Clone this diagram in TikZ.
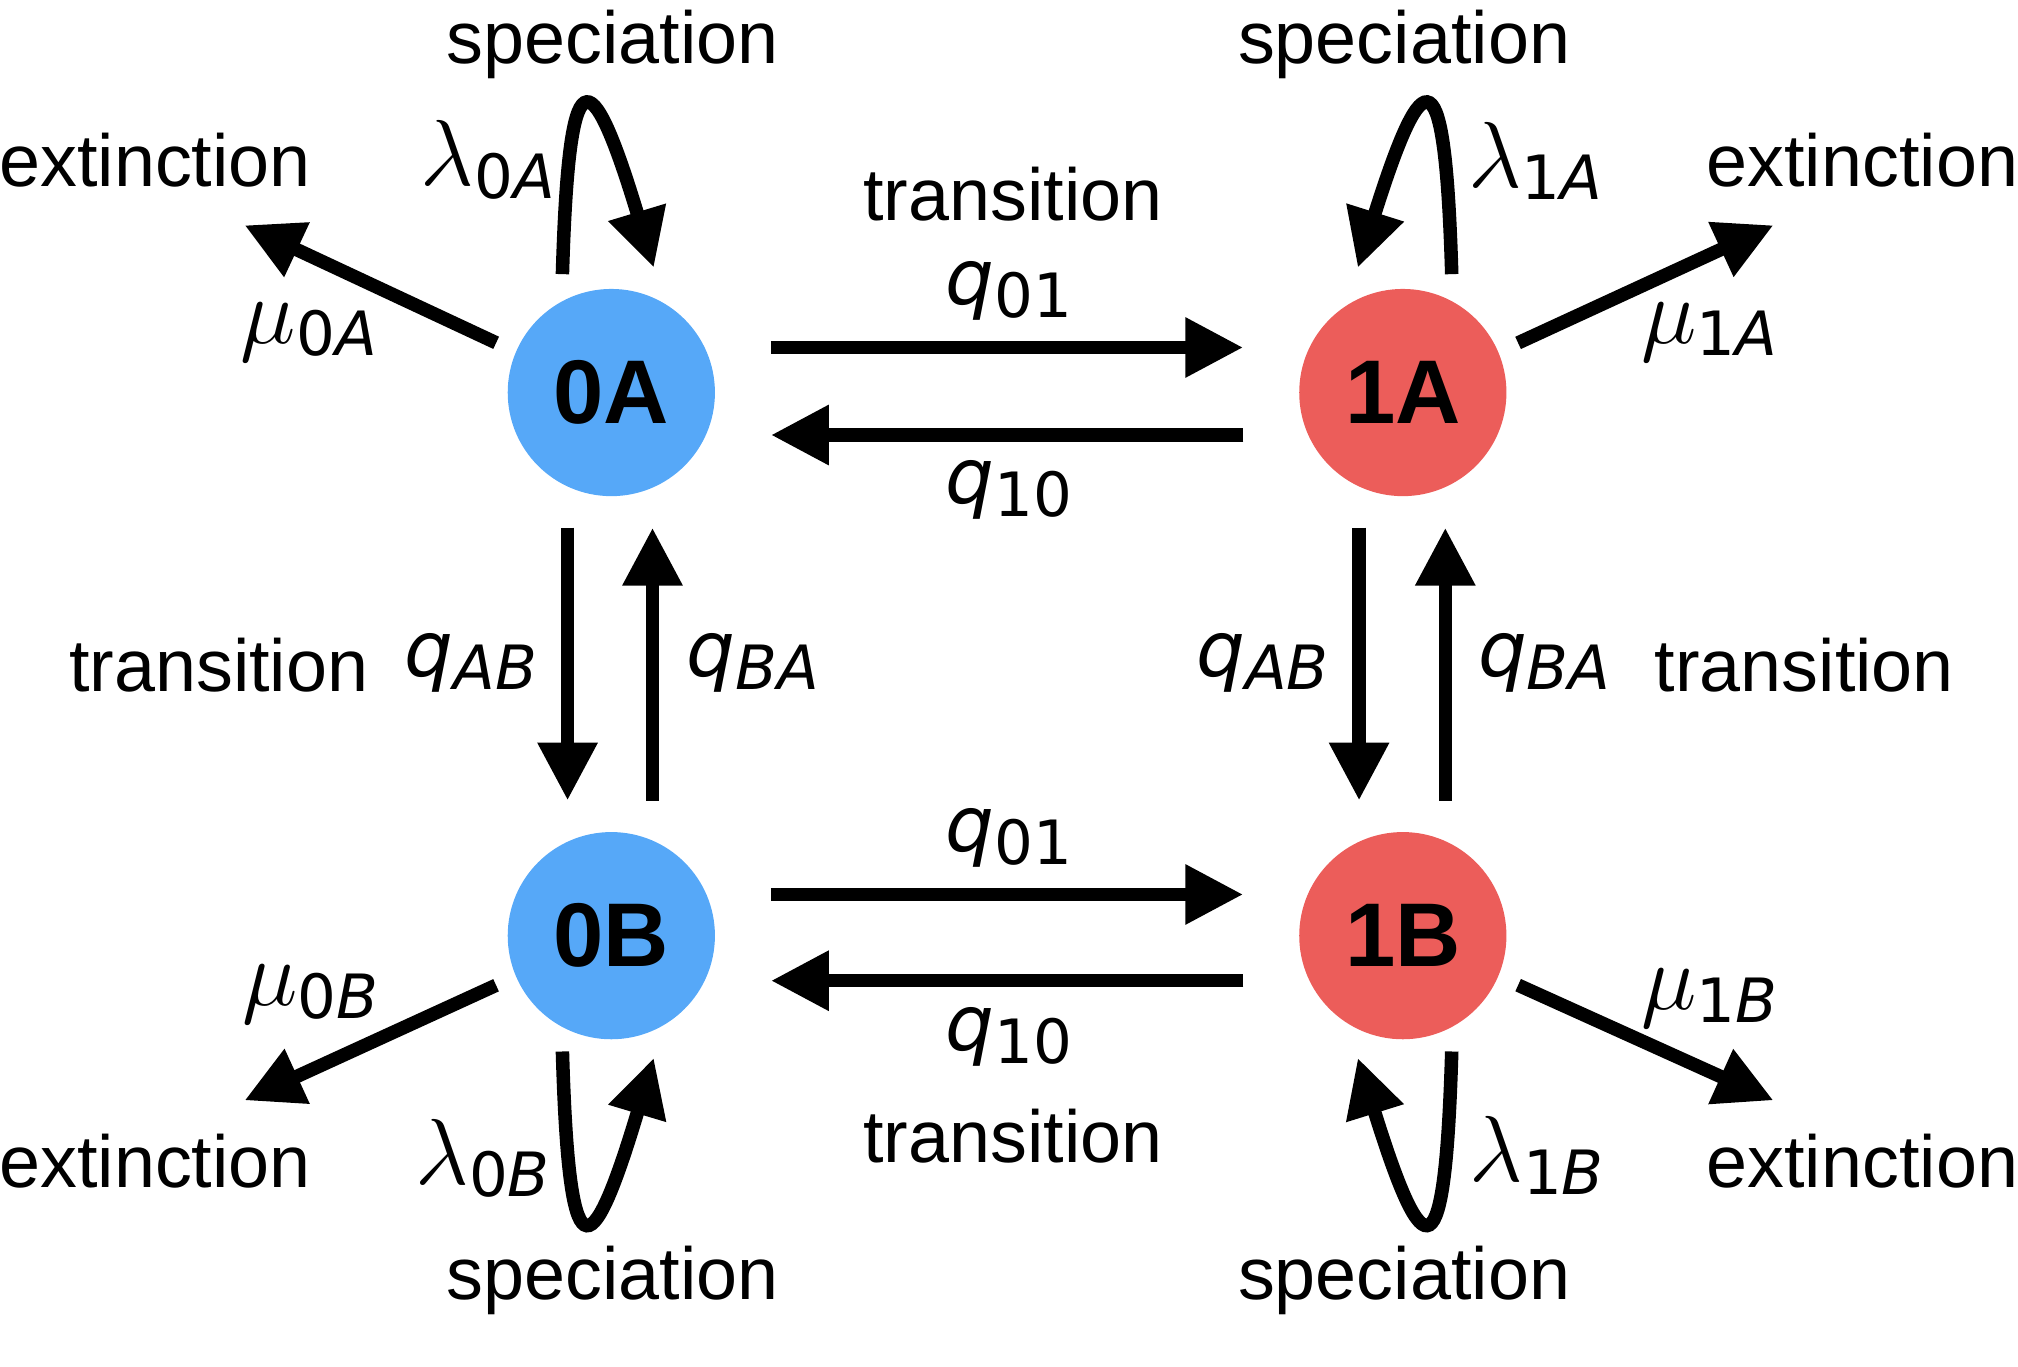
\documentclass[tikz,border=0pt]{standalone}
\usepackage{amsmath}
\usepackage{fontspec}
\setmainfont{Liberation Sans}
\newfontfamily\dvsans{DejaVu Sans}
\usepackage{tikz}
\usetikzlibrary{arrows.meta}
\definecolor{statblue}{RGB}{86,168,248}
\definecolor{statred}{RGB}{236,93,90}
\newcommand{\rsub}[1]{\raisebox{-2.8pt}{\fontsize{13.5}{16}\selectfont #1}}
\newcommand{\qrate}[1]{{\fontsize{17}{20}\selectfont\itshape q}\rsub{#1}}
\newcommand{\grate}[2]{{\fontsize{20}{24}\selectfont$#1$}\rsub{#2}}

\begin{document}
\begin{tikzpicture}[
  state/.style={circle, minimum size=1.61cm, inner sep=0pt, outer sep=0pt,
    font=\fontsize{20}{24}\selectfont\bfseries},
  word/.style={inner sep=0pt, anchor=base, font=\fontsize{16.3}{19}\selectfont},
  rlabel/.style={inner sep=0pt, font=\dvsans},
  rate/.style={line width=1.05mm, -{Triangle[length=4.5mm,width=4.4mm]}},
  hrate/.style={rate, shorten <=4.35mm, shorten >=4.35mm},
  vrate/.style={rate, shorten <=2.45mm, shorten >=2.45mm},
  erate/.style={rate, shorten <=1.7mm}]
  \useasboundingbox (0,0) rectangle (15.68,-10.62);

  \node[state, fill=statblue] (0A) at (4.75,-3.05) {0A};
  \node[state, fill=statred]  (1A) at (10.90,-3.05) {1A};
  \node[state, fill=statblue] (0B) at (4.75,-7.27) {0B};
  \node[state, fill=statred]  (1B) at (10.90,-7.27) {1B};

  \coordinate (e0A) at (1.90,-1.75);
  \coordinate (e1A) at (13.78,-1.75);
  \coordinate (e0B) at (1.90,-8.55);
  \coordinate (e1B) at (13.78,-8.55);

  \draw[hrate] ([yshift=0.35cm]0A.east) -- ([yshift=0.35cm]1A.west);
  \draw[hrate] ([yshift=-0.33cm]1A.west) -- ([yshift=-0.33cm]0A.east);
  \draw[hrate] ([yshift=0.32cm]0B.east) -- ([yshift=0.32cm]1B.west);
  \draw[hrate] ([yshift=-0.35cm]1B.west) -- ([yshift=-0.35cm]0B.east);

  \draw[vrate] ([xshift=-0.34cm]0A.south) -- ([xshift=-0.34cm]0B.north);
  \draw[vrate] ([xshift=0.32cm]0B.north) -- ([xshift=0.32cm]0A.south);
  \draw[vrate] ([xshift=-0.34cm]1A.south) -- ([xshift=-0.34cm]1B.north);
  \draw[vrate] ([xshift=0.33cm]1B.north) -- ([xshift=0.33cm]1A.south);

  \draw[erate] (0A.157) -- (e0A);
  \draw[erate] (1A.23) -- (e1A);
  \draw[erate] (0B.203) -- (e0B);
  \draw[erate] (1B.-23) -- (e1B);

  \draw[rate] ([shift={(-0.38,0.92)}]0A.center)
    .. controls ([shift={(-0.33,2.62)}]0A.center) and ([shift={(-0.17,2.62)}]0A.center)
    .. ([shift={(0.33,0.97)}]0A.center);
  \draw[rate] ([shift={(0.38,0.92)}]1A.center)
    .. controls ([shift={(0.33,2.62)}]1A.center) and ([shift={(0.17,2.62)}]1A.center)
    .. ([shift={(-0.35,0.97)}]1A.center);
  \draw[rate] ([shift={(-0.38,-0.90)}]0B.center)
    .. controls ([shift={(-0.33,-2.62)}]0B.center) and ([shift={(-0.17,-2.62)}]0B.center)
    .. ([shift={(0.33,-0.95)}]0B.center);
  \draw[rate] ([shift={(0.38,-0.90)}]1B.center)
    .. controls ([shift={(0.33,-2.62)}]1B.center) and ([shift={(0.17,-2.62)}]1B.center)
    .. ([shift={(-0.35,-0.95)}]1B.center);

  \node[word] (sp0A) at (4.76,-0.49) {speciation};
  \node[word] (sp1A) at (10.91,-0.49) {speciation};
  \node[word] (sp0B) at (4.76,-10.10) {speciation};
  \node[word] (sp1B) at (10.91,-10.10) {speciation};
  \node[word] (ex0A) at (1.205,-1.45) {extinction};
  \node[word] (ex1A) at (14.47,-1.45) {extinction};
  \node[word] (ex0B) at (1.205,-9.23) {extinction};
  \node[word] (ex1B) at (14.47,-9.23) {extinction};
  \node[word] (trtop) at (7.87,-1.71) {transition};
  \node[word] (trbot) at (7.87,-9.03) {transition};
  \node[word] (trlft) at (1.70,-5.37) {transition};
  \node[word] (trrgt) at (14.02,-5.37) {transition};

  \node[rlabel] (l0A) at (3.79,-1.24) {\grate{\lambda}{0\textit{A}}};
  \node[rlabel] (l1A) at (11.93,-1.25) {\grate{\lambda}{1\textit{A}}};
  \node[rlabel] (l0B) at (3.75,-9.00) {\grate{\lambda}{0\textit{B}}};
  \node[rlabel] (l1B) at (11.94,-8.98) {\grate{\lambda}{1\textit{B}}};
  \node[rlabel] (m0A) at (2.40,-2.58) {\grate{\mu}{0\textit{A}}};
  \node[rlabel] (m1A) at (13.28,-2.58) {\grate{\mu}{1\textit{A}}};
  \node[rlabel] (m0B) at (2.41,-7.73) {\grate{\mu}{0\textit{B}}};
  \node[rlabel] (m1B) at (13.28,-7.76) {\grate{\mu}{1\textit{B}}};

  \node[rlabel] (q01top) at (7.84,-2.26) {\qrate{01}};
  \node[rlabel] (q10top) at (7.84,-3.81) {\qrate{10}};
  \node[rlabel] (q01bot) at (7.84,-6.51) {\qrate{01}};
  \node[rlabel] (q10bot) at (7.84,-8.06) {\qrate{10}};
  \node[rlabel] (qAB0) at (3.66,-5.15) {\qrate{\textit{AB}}};
  \node[rlabel] (qBA0) at (5.85,-5.15) {\qrate{\textit{BA}}};
  \node[rlabel] (qAB1) at (9.81,-5.15) {\qrate{\textit{AB}}};
  \node[rlabel] (qBA1) at (12.00,-5.15) {\qrate{\textit{BA}}};
\end{tikzpicture}
\end{document}
